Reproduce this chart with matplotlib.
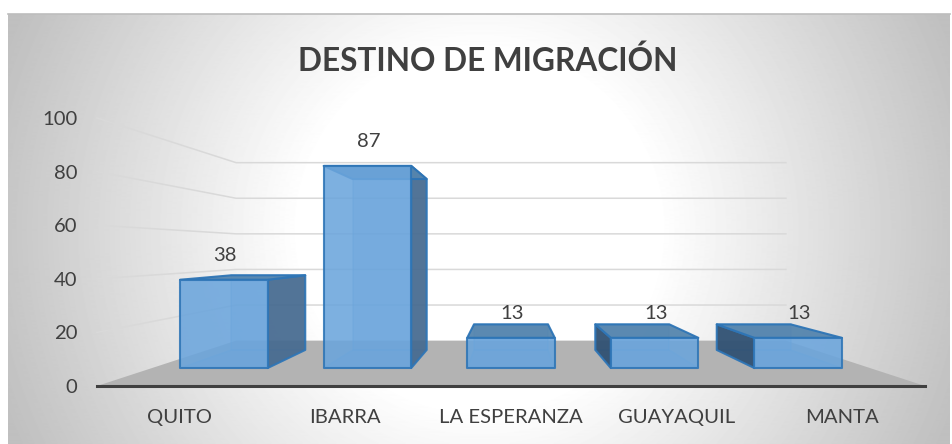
import numpy as np
import matplotlib
matplotlib.use('Agg')
import matplotlib.pyplot as plt
from matplotlib.patches import Polygon

plt.rcParams['font.family'] = ['Lato', 'DejaVu Sans']

categorias = ['QUITO', 'IBARRA', 'LA ESPERANZA', 'GUAYAQUIL', 'MANTA']
valores = [38, 87, 13, 13, 13]
marcas_y = [0, 20, 40, 60, 80, 100]

W, H = 953, 444
texto = '#404040'

# punto de fuga y escalas de profundidad (frente, barra, fondo)
vx, vy = 2.0, 50.4
s_frente, s_bar1, s_bar2, s_fondo = 1.0, 0.867, 0.733, 0.664
ancho = 0.61


def proy(x, v, s):
    return (vx + s * (x - vx), vy + s * (v - vy))


def cara(ax, pts, color, alpha, z, ec='#2E75B6', lw=1.5):
    ax.add_patch(Polygon(pts, closed=True, fc=color, alpha=alpha, ec=ec, lw=lw,
                         joinstyle='round', zorder=z, clip_on=False))


fig = plt.figure(figsize=(W / 100, H / 100), dpi=100, facecolor='white')

# fondo con degradado radial (circular en pixeles)
fondo = fig.add_axes([8 / W, 0, (950 - 8) / W, (H - 14) / H], zorder=0)
yy, xx = np.mgrid[14:444:430j, 8:950:942j]
r = np.sqrt((xx - 480) ** 2 + (yy - 230) ** 2)
g = np.clip((r - 180) / (510 - 180), 0, 1)
fondo.imshow(1 - 0.25 * g, cmap='gray', vmin=0, vmax=1, aspect='auto')
fondo.set_xticks([])
fondo.set_yticks([])
for lado in ['left', 'right', 'bottom']:
    fondo.spines[lado].set_visible(False)
fondo.spines['top'].set_color('#BDBDBD')
fondo.spines['top'].set_linewidth(1.2)

ax = fig.add_axes([97 / W, (H - 386) / H, 828 / W, 268 / H], zorder=1)
ax.patch.set_visible(False)
ax.set_xlim(-0.5, 4.5)
ax.set_ylim(0, 100)

# suelo
suelo = [proy(-0.5, 0, s_frente), proy(4.5, 0, s_frente), proy(4.5, 0, s_fondo), proy(-0.5, 0, s_fondo)]
ax.add_patch(Polygon(suelo, closed=True, fc='#B3B3B3', ec='none', zorder=1, clip_on=False))

# lineas de la cuadricula: pared izquierda y pared del fondo
for m in marcas_y[1:]:
    a = proy(-0.5, m, s_frente)
    b = proy(-0.5, m, s_fondo)
    c = proy(4.5, m, s_fondo)
    ax.plot([a[0], b[0], c[0]], [a[1], b[1], c[1]], color='#D9D9D9', lw=1.1, zorder=1, clip_on=False)

for i, v in enumerate(valores):
    x1, x2 = i - ancho / 2, i + ancho / 2
    f1, f2 = proy(x1, 0, s_bar1), proy(x2, 0, s_bar1)
    f3, f4 = proy(x2, v, s_bar1), proy(x1, v, s_bar1)
    b1, b2 = proy(x1, 0, s_bar2), proy(x2, 0, s_bar2)
    b3, b4 = proy(x2, v, s_bar2), proy(x1, v, s_bar2)
    cara(ax, [b1, b2, b3, b4], '#5B9BD5', 0.35, 2, ec='#5B9BD5', lw=1.2)
    cara(ax, [f1, f2, b2, b1], '#5B9BD5', 0.35, 2, ec='#5B9BD5', lw=1.2)
    # la cara lateral visible depende del lado del punto de fuga
    if i > vx:
        cara(ax, [f1, f4, b4, b1], '#2F4F70', 0.92, 3)
    if i < vx:
        cara(ax, [f2, f3, b3, b2], '#46698E', 0.9, 3)
    cara(ax, [f4, f3, b3, b4], '#5585AE', 0.95, 4)
    cara(ax, [f1, f2, f3, f4], '#6BA5DC', 0.88, 5)
    ax.annotate(str(v), xy=((f1[0] + f2[0]) / 2, f4[1]), xytext=(1, 17.5), textcoords='offset points',
                ha='center', va='center', fontsize=14.6, color=texto, zorder=6)

ax.set_xticks(range(len(categorias)))
ax.set_xticklabels(categorias)
ax.set_yticks(marcas_y)
ax.tick_params(axis='x', length=0, pad=16.5, labelsize=14.6, labelcolor=texto)
ax.tick_params(axis='y', length=0, pad=14, labelsize=14.6, labelcolor=texto)
for lado in ['top', 'left', 'right']:
    ax.spines[lado].set_visible(False)
ax.spines['bottom'].set_color('#404040')
ax.spines['bottom'].set_linewidth(2.2)
ax.spines['bottom'].set_zorder(6)

fig.text(488 / W, 1 - 61 / H, 'DESTINO DE MIGRACIÓN', ha='center', va='center',
         fontsize=22.8, fontweight='bold', color=texto)

fig.savefig('out.png', dpi=100)
